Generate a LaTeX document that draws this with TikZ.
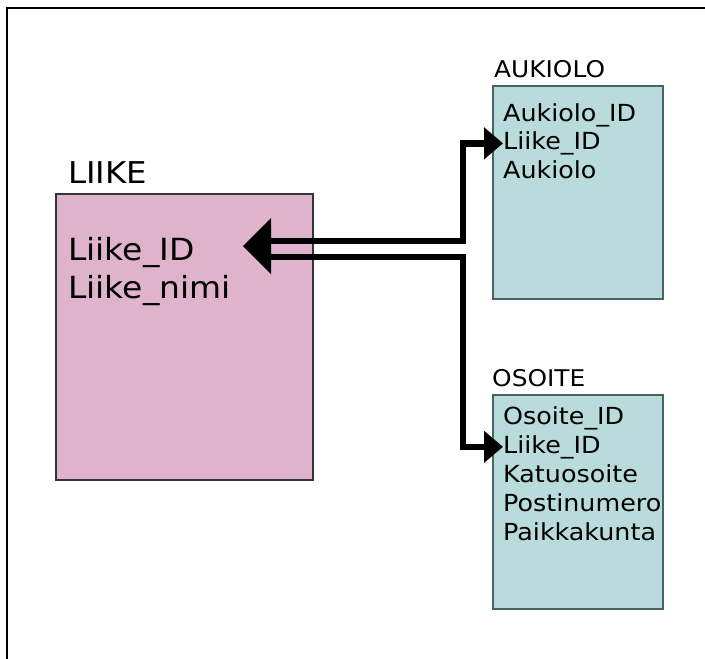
\documentclass[tikz,border=0pt]{standalone}
\usepackage{fontspec}
\setmainfont{DejaVu Sans}[FakeStretch=1.08]
\usetikzlibrary{arrows.meta}

\definecolor{liikepink}{RGB}{222,179,203}
\definecolor{tablecyan}{RGB}{186,219,219}
\definecolor{cyanedge}{RGB}{70,100,100}

\begin{document}
\begin{tikzpicture}[x=1pt,y=-1pt,
    frame/.style={line width=2.5pt},
    liikebox/.style={draw=black!80,fill=liikepink,line width=1.8pt,anchor=north west,
      minimum width=257pt,minimum height=286pt,inner sep=0pt},
    tablebox/.style={draw=cyanedge,fill=tablecyan,line width=1.6pt,anchor=north west,
      minimum width=170pt,minimum height=213pt,inner sep=0pt},
    title/.style={anchor=base west,inner sep=0pt,font=\fontsize{23}{27}\selectfont},
    field/.style={anchor=base west,inner sep=0pt,font=\fontsize{23.5}{28}\selectfont},
    bigfield/.style={anchor=base west,inner sep=0pt,font=\fontsize{30.5}{36}\selectfont},
    link/.style={line width=6.5pt,-{Triangle[length=19pt,width=31pt]}}]
  \useasboundingbox (0,0) rectangle (705,659);
  \draw[frame] (7,659) -- (7,8) -- (705,8);

  % LIIKE
  \node[liikebox] (liike) at (55,193) {};
  \node[bigfield,font=\fontsize{30}{36}\selectfont] (liike-title) at (68,183) {LIIKE};
  \node[bigfield] (liike-1) at (68,260) {Liike\_ID};
  \node[bigfield] (liike-2) at (68,298) {Liike\_nimi};

  % AUKIOLO
  \node[tablebox] (aukiolo) at (492,85) {};
  \node[title] (auk-title) at (494,77) {AUKIOLO};
  \foreach \f [count=\k] in {Aukiolo\_ID,Liike\_ID,Aukiolo}
  {
    \node[field] (auk-\k) at (503,121+28.5*\k-28.5) {\f};
  }

  % OSOITE
  \node[tablebox,minimum height=214pt] (osoite) at (492,394) {};
  \node[title] (os-title) at (492,386) {OSOITE};
  \foreach \f [count=\k] in {Osoite\_ID,Liike\_ID,Katuosoite,Postinumero,Paikkakunta}
  {
    \node[field] (os-\k) at (503,424+29*\k-29) {\f};
  }

  % arrows
  \coordinate (head) at (243,246);
  \coordinate (up) at (262,241);
  \coordinate (lo) at (262,257);
  \fill (head) -- ++(28,-28) -- ++(0,56) -- cycle;
  \draw[link] (up) -| ([xshift=-40pt]auk-2.west) -- (auk-2.west);
  \draw[link] (lo) -| ([xshift=-40pt]os-2.west) -- (os-2.west);
\end{tikzpicture}
\end{document}
